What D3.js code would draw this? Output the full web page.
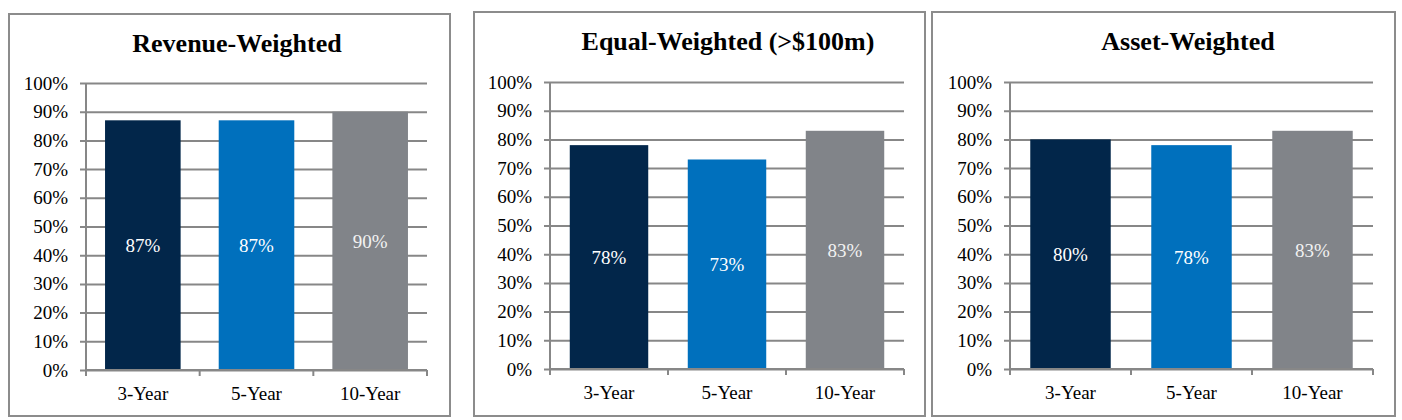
<!DOCTYPE html>
<html>
<head>
<meta charset="utf-8">
<script src="https://cdn.jsdelivr.net/npm/d3@7"></script>
<style>
  body { margin: 0; background: #fff; }
  svg { display: block; }
  svg text { font-family: "Liberation Serif", "Times New Roman", serif !important; }
</style>
</head>
<body>
<svg id="canvas" width="1402" height="420"></svg>
<script>
// chart data
const categories = ['3-Year', '5-Year', '10-Year'];
const titles = ['Revenue-Weighted', 'Equal-Weighted (>$100m)', 'Asset-Weighted'];
const revenueWeighted = [87, 87, 90];
const equalWeighted = [78, 73, 83];
const assetWeighted = [80, 78, 83];
const yTicks = [0, 10, 20, 30, 40, 50, 60, 70, 80, 90, 100];

const seriesList = [revenueWeighted, equalWeighted, assetWeighted];
const barColors = ['#02264a', '#0070bd', '#818489'];

// where each panel sits on the page
const layout = [
    {box: [9, 14, 441, 402], plot: [86, 427, 83, 370], titleX: 237, titleY: 52},
    {box: [474, 12, 451, 404], plot: [550, 904, 82, 369], titleX: 728, titleY: 50},
    {box: [932, 12, 463, 404], plot: [1010, 1373, 82, 369], titleX: 1188, titleY: 50}
];

const canvas = d3.select('#canvas');

let drawPanel = (i) => {
    let lay = layout[i];
    let values = seriesList[i];
    let [left, right, top, bottom] = lay.plot;

    let g = canvas.append('g');

    // outer frame
    g.append('rect')
        .attr('x', lay.box[0]).attr('y', lay.box[1])
        .attr('width', lay.box[2]).attr('height', lay.box[3])
        .attr('fill', '#fff')
        .attr('stroke', '#8c8c8c')
        .attr('stroke-width', 2)

    g.append('text')
        .text(titles[i])
        .attr('x', lay.titleX)
        .attr('y', lay.titleY)
        .attr('text-anchor', 'middle')
        .attr('font-size', 26)
        .attr('font-weight', 'bold')
        .attr('fill', '#000')

    let xScale = d3.scaleBand()
                    .domain(categories)
                    .range([left, right])
                    .paddingInner(0.335)
                    .paddingOuter(0.1675)

    let yScale = d3.scaleLinear()
                    .domain([0, 100])
                    .range([bottom, top])

    // gridlines + y ticks
    let yAxis = d3.axisLeft(yScale)
                    .tickValues(yTicks)
                    .tickFormat((d) => d + '%')
                    .tickSize(-(right - left) - 6)
                    .tickPadding(0)
    let yG = g.append('g')
                .attr('transform', 'translate(' + (right) + ',0)')
                .call(yAxis)
    yG.select('.domain').remove()
    yG.selectAll('line')
        .attr('stroke', '#878787')
        .attr('stroke-width', 2)
        .attr('x1', 0)
        .attr('x2', -(right - left) - 6)
    yG.selectAll('text')
        .attr('x', -(right - left) - 18)
        .attr('font-size', 19)
        .attr('fill', '#000')

    // y axis line
    g.append('line')
        .attr('x1', left).attr('x2', left)
        .attr('y1', top).attr('y2', bottom + 6)
        .attr('stroke', '#878787')
        .attr('stroke-width', 2)

    // bars
    g.selectAll('.bar')
        .data(values)
        .enter()
        .append('rect')
        .attr('class', 'bar')
        .attr('x', (d, j) => xScale(categories[j]))
        .attr('y', (d) => yScale(d))
        .attr('width', xScale.bandwidth())
        .attr('height', (d) => bottom - yScale(d))
        .attr('fill', (d, j) => barColors[j])

    // value labels in the middle of each bar
    g.selectAll('.val')
        .data(values)
        .enter()
        .append('text')
        .attr('class', 'val')
        .text((d) => d + '%')
        .attr('x', (d, j) => xScale(categories[j]) + xScale.bandwidth() / 2)
        .attr('y', (d) => (yScale(d) + bottom) / 2)
        .attr('dy', '0.35em')
        .attr('text-anchor', 'middle')
        .attr('font-size', 19)
        .attr('fill', (d, j) => j === 2 ? '#f2f2f2' : '#fff')

    // category axis
    let xAxis = d3.axisBottom(xScale)
                    .tickSize(0)
                    .tickPadding(0)
    let xG = g.append('g')
                .attr('transform', 'translate(0,' + bottom + ')')
                .call(xAxis)
    xG.select('.domain')
        .attr('d', 'M' + left + ',0H' + right)
        .attr('stroke', '#878787')
        .attr('stroke-width', 2)
    xG.selectAll('text')
        .attr('y', 30)
        .attr('dy', 0)
        .attr('font-size', 19)
        .attr('fill', '#000')

    // category separators hanging below the axis
    let step = xScale.step()
    let seps = d3.range(categories.length + 1).map((k) => left + k * step)
    g.selectAll('.sep')
        .data(seps)
        .enter()
        .append('line')
        .attr('class', 'sep')
        .attr('x1', (d) => d).attr('x2', (d) => d)
        .attr('y1', bottom).attr('y2', bottom + 6)
        .attr('stroke', '#878787')
        .attr('stroke-width', 2)
}

titles.forEach((t, i) => drawPanel(i))
</script>
</body>
</html>
